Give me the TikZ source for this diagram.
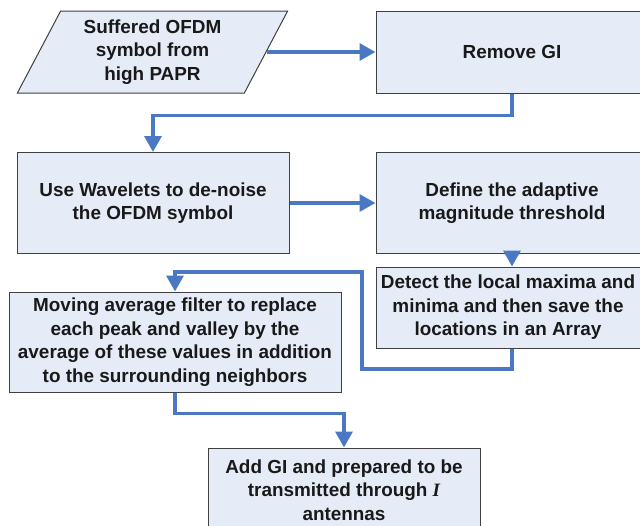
\documentclass[tikz,border=0pt]{standalone}
\usepackage{fontspec}
\setmainfont{Liberation Sans}
\newfontfamily\serifit{Liberation Serif}
\usetikzlibrary{shapes.geometric,arrows.meta}
\definecolor{boxfill}{HTML}{E6ECF7}
\definecolor{boxline}{HTML}{404040}
\definecolor{flowblue}{HTML}{4A78C2}

\begin{document}
\begin{tikzpicture}[
   x=1pt,y=-1pt,
   font=\fontsize{18.9}{23.5}\selectfont\bfseries,
   box/.style={draw=boxline,fill=boxfill,line width=1pt,text=black!90,align=center,
     inner sep=0pt,minimum width=272pt,minimum height=82pt},
   io/.style={trapezium,trapezium left angle=63.4,trapezium right angle=116.6,
     trapezium stretches=true,draw=boxline,fill=boxfill,line width=1pt,text=black!90,
     align=center,inner sep=0pt,minimum width=271pt,minimum height=82pt},
   flow/.style={-{Triangle[width=17pt,length=16pt]},draw=flowblue,line width=3.5pt}]
\clip (0,0) rectangle (640,525);
\node[io] (src) at (152.5,52) {Suffered OFDM\\symbol from\\high PAPR};
\node[box] (rmgi) at (512,52) {Remove GI};
\node[box,minimum height=101pt] (wav) at (153,203) {Use Wavelets to de-noise\\the OFDM symbol};
\node[box,minimum height=101pt] (thr) at (512,203) {Define the adaptive\\magnitude threshold};
\node[box,minimum width=264pt,minimum height=81pt] (det) at (508,307.5) {Detect the local maxima and\\minima and then save the\\locations in an Array};
\node[box,minimum width=332pt,minimum height=100pt] (avg) at (175,342) {Moving average filter to replace\\each peak and valley by the\\average of these values in addition\\to the surrounding neighbors};
\node[box,minimum height=84pt] (addgi) at (344,490) {Add GI and prepared to be\\transmitted through {\serifit\bfseries\itshape I}\\antennas};
\draw[flow] (rmgi.west -| src.east) -- (rmgi.west);
\draw[flow] (rmgi.south) -- ++(0,22) -| (wav.north);
\draw[flow] (wav.east) -- (thr.west);
\draw[flow] (thr.south) -- (thr.south |- det.north);
\draw[flow] (det.south -| thr.south) -- ++(0,20.5) -| (362,272) -| (avg.north);
\draw[flow] (avg.south) -- ++(0,21) -| (addgi.north);
\end{tikzpicture}
\end{document}
